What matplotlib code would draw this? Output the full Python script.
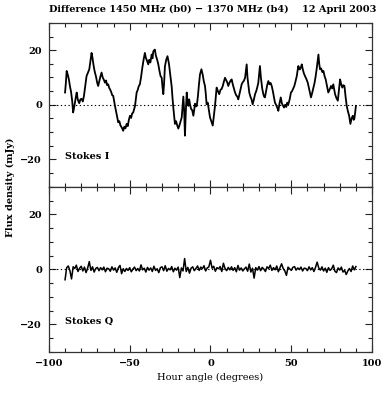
import numpy as np
import matplotlib
matplotlib.use("Agg")
import matplotlib.pyplot as plt
from matplotlib.ticker import MultipleLocator

# Stokes I - razlika 1450 MHz (b0) - 1370 MHz (b4), ocitano sa slike
stokes_i_x = [
    -90.0, -89.5, -89.0, -88.3, -87.6, -87.0, -86.3, -85.6, -85.0, -84.4,
    -83.9, -83.3, -82.8, -82.3, -81.9, -81.2, -80.5, -79.8, -79.0, -78.3,
    -77.5, -76.7, -76.0, -75.0, -74.3, -73.6, -73.1, -72.6, -72.0, -71.5,
    -70.8, -70.1, -69.5, -68.8, -68.1, -67.4, -66.7, -66.0, -65.3, -64.6,
    -64.0, -63.3, -62.7, -62.2, -61.5, -60.8, -60.2, -59.6, -59.1, -58.4,
    -57.7, -57.1, -56.4, -55.7, -55.0, -54.5, -54.0, -53.3, -52.6, -51.9,
    -51.2, -50.5, -49.8, -49.1, -48.5, -47.8, -47.2, -46.7, -46.2, -45.7,
    -45.0, -44.4, -43.7, -43.0, -42.2, -41.4, -40.6, -40.0, -39.2, -38.5,
    -37.9, -37.2, -36.4, -35.9, -35.4, -34.9, -34.4, -33.8, -33.0, -32.3,
    -31.6, -30.9, -30.2, -29.7, -29.2, -28.7, -28.2, -27.4, -26.6, -25.7,
    -24.8, -24.0, -23.5, -23.0, -22.5, -22.0, -21.3, -20.6, -19.9, -19.2,
    -18.5, -17.8, -17.3, -16.8, -16.3, -15.8, -15.3, -14.7, -14.2, -13.7,
    -13.2, -12.7, -12.0, -11.3, -10.6, -10.1, -9.6, -9.0, -8.5, -7.8,
    -7.2, -6.5, -5.6, -4.8, -4.1, -3.4, -2.9, -2.4, -1.7, -1.0,
    -0.3, 0.5, 1.4, 2.1, 2.8, 3.3, 3.8, 4.6, 5.4, 6.2,
    6.9, 7.6, 8.3, 9.0, 9.7, 10.4, 11.0, 11.7, 12.4, 13.1,
    13.8, 14.5, 15.2, 15.9, 16.6, 17.2, 17.9, 18.6, 19.3, 20.0,
    20.7, 21.4, 21.9, 22.4, 22.9, 23.5, 24.0, 24.7, 25.4, 26.1,
    26.8, 27.6, 28.3, 29.0, 29.6, 30.1, 30.6, 31.2, 32.0, 32.7,
    33.2, 33.7, 34.4, 35.1, 35.8, 36.5, 37.2, 37.9, 38.6, 39.2,
    39.9, 40.6, 41.3, 42.0, 42.7, 43.5, 44.2, 44.8, 45.5, 46.2,
    46.9, 47.5, 48.2, 49.0, 49.8, 50.5, 51.2, 51.9, 52.6, 53.4,
    53.9, 54.4, 54.9, 55.4, 56.0, 56.5, 57.2, 57.8, 58.5, 59.3,
    60.2, 60.8, 61.5, 62.2, 63.0, 63.7, 64.4, 65.1, 65.8, 66.3,
    66.8, 67.3, 67.8, 68.5, 69.2, 69.9, 70.6, 71.3, 72.1, 72.9,
    73.7, 74.6, 75.3, 76.0, 76.6, 77.1, 77.9, 78.8, 79.5, 80.2,
    80.9, 81.6, 82.2, 82.9, 83.6, 84.3, 85.1, 85.8, 86.2, 86.6,
    87.3, 88.1, 88.6, 89.0, 89.5, 90.0,
]
stokes_i = [
    4.5, 8.0, 12.4, 11.0, 9.2, 6.9, 4.8, 1.5, -2.8, -1.0,
    0.8, 2.9, 4.5, 2.5, 1.5, 0.6, 2.0, 2.2, 1.2, 3.3,
    6.8, 10.5, 11.5, 13.0, 16.0, 19.0, 17.5, 15.4, 13.2, 11.8,
    10.2, 8.0, 6.9, 8.6, 10.4, 11.8, 10.0, 9.2, 8.1, 8.9,
    7.2, 7.5, 6.2, 5.7, 4.8, 3.5, 3.3, 1.2, -0.4, -2.5,
    -4.8, -6.4, -6.0, -7.6, -8.2, -8.8, -9.5, -8.0, -8.6, -7.0,
    -7.8, -5.5, -4.0, -4.8, -3.2, -2.8, -1.5, -0.4, 2.0, 4.5,
    5.5, 6.8, 7.5, 10.0, 13.5, 16.5, 19.0, 17.2, 16.0, 14.8,
    16.5, 15.5, 18.4, 17.0, 19.5, 20.0, 20.2, 18.0, 16.5, 14.8,
    12.5, 10.5, 9.9, 6.5, 3.9, 8.0, 14.0, 16.5, 17.8, 15.0,
    10.5, 6.6, 2.5, -1.0, -4.0, -7.0, -6.0, -7.5, -8.7, -7.5,
    -6.0, -4.6, -1.0, 3.0, -2.0, -11.3, -3.0, 4.5, 1.0, -0.4,
    2.0, 0.2, -1.5, -2.0, -4.0, -2.0, 0.4, -0.6, -0.4, 3.0,
    7.0, 11.1, 13.0, 11.0, 8.5, 6.9, 4.0, 0.2, 0.8, -2.0,
    -4.6, -6.0, -7.6, -4.0, -0.4, 3.0, 6.3, 5.0, 3.9, 5.5,
    5.8, 6.9, 8.5, 9.9, 9.0, 8.2, 6.9, 8.0, 8.8, 9.3,
    7.5, 6.0, 4.5, 3.5, 3.0, 2.0, 3.8, 5.5, 7.5, 8.3,
    8.8, 9.9, 12.5, 14.8, 10.0, 7.0, 4.5, 3.0, 2.0, 0.2,
    1.8, 3.9, 5.0, 6.5, 8.1, 11.0, 14.2, 10.0, 6.0, 3.9,
    3.0, 2.7, 5.0, 7.2, 8.7, 7.5, 8.0, 6.9, 5.0, 3.0,
    0.8, 0.0, -1.0, -2.2, 0.5, 2.7, 0.5, -0.2, -1.0, 0.0,
    -0.8, 0.8, 0.2, 2.0, 4.5, 5.0, 6.0, 6.9, 8.5, 10.5,
    12.5, 14.2, 13.0, 13.0, 13.8, 14.8, 12.8, 11.5, 10.5, 9.5,
    8.1, 6.5, 4.5, 2.7, 4.5, 6.3, 8.0, 10.5, 13.5, 16.0,
    18.4, 15.0, 13.0, 13.3, 12.0, 12.4, 10.5, 9.3, 7.0, 4.5,
    5.5, 6.9, 6.0, 7.5, 5.5, 3.9, 2.5, 1.5, 5.5, 9.3,
    7.5, 6.3, 7.2, 6.9, 3.0, -0.4, -2.5, -4.0, -5.5, -7.0,
    -5.0, -4.0, -5.5, -5.2, -3.0, -0.4,
]

# Stokes Q - korak od 1 stupnja, od -90 do 90
stokes_q_x = list(range(-90, 91))
stokes_q = [
    -3.8, 0.6, 1.2, -0.5, -3.5, 0.9, 0.3, 1.5, -0.8, 0.4,
    1.1, -0.6, 0.8, -1.2, 0.5, 2.8, -0.4, 0.9, -1.0, 0.3,
    0.7, -0.5, 0.6, -0.2, 0.8, -0.9, 0.4, 0.2, -0.7, 0.9,
    -0.3, 0.5, -1.1, 0.6, 1.4, -1.6, 0.2, -0.8, 0.3, -0.4,
    0.6, -0.9, 0.1, 0.8, -0.5, 0.3, -0.6, 1.6, -0.2, 0.4,
    -1.0, 0.7, -0.3, 0.5, -0.8, 1.1, -0.4, 0.2, -1.2, 0.6,
    0.9, -0.5, 1.3, -0.7, 0.3, -0.2, 1.0, -0.9, 0.4, -0.3,
    0.8, -3.0, 0.5, -0.6, 3.9, -0.8, 0.7, -1.4, 0.4, 0.9,
    -0.5, 0.3, 1.2, -0.4, 0.8, 0.2, 1.3, -0.6, 0.5, 0.9,
    3.3, 0.4, 1.1, -0.7, 0.6, 0.2, 1.0, -0.8, 2.2, 0.3,
    -0.5, 0.7, -0.2, 0.9, -0.4, 0.6, -0.9, 1.4, -0.3, 0.5,
    -0.6, 0.2, 0.8, -0.7, 1.9, -1.0, 0.4, -3.2, 0.6, -0.3,
    1.0, -0.5, 0.7, 0.1, -0.8, 0.9, 0.3, 1.5, -0.4, 0.6,
    -0.2, 1.2, -0.9, 0.5, 2.0, 0.3, -0.6, -2.2, 0.8, 0.2,
    -0.4, 0.7, 1.0, -0.3, 0.5, -0.1, 0.8, -0.6, 0.4, 0.3,
    -0.5, 0.9, -0.2, 0.6, -0.8, 0.7, 2.6, 0.5, -0.3, 0.9,
    -0.6, 0.4, -1.1, 0.6, -0.4, 0.2, 1.5, -0.7, -1.2, 0.5,
    -0.3, 0.8, -1.0, -0.4, -1.9, -0.6, 0.3, -0.8, 1.2, -0.2,
    1.0,
]

font = "DejaVu Serif"
plt.rcParams["font.family"] = font
plt.rcParams["font.size"] = 7
plt.rcParams["font.weight"] = "bold"

fig = plt.figure(figsize=(3.82, 3.94), dpi=100)
ax1 = fig.add_axes([0.128, 0.526, 0.846, 0.416])
ax2 = fig.add_axes([0.128, 0.107, 0.846, 0.419])

for ax, x, y, ime, debljina in [(ax1, stokes_i_x, stokes_i, "Stokes I", 1.3),
                                (ax2, stokes_q_x, stokes_q, "Stokes Q", 1.1)]:
    ax.axhline(0, color="black", linestyle=(0, (1.2, 2.2)), lw=0.8)
    ax.plot(x, y, color="black", lw=debljina)
    ax.set_xlim(-100, 100)
    ax.set_ylim(-30, 30)
    ax.xaxis.set_major_locator(MultipleLocator(50))
    ax.xaxis.set_minor_locator(MultipleLocator(10))
    ax.yaxis.set_major_locator(MultipleLocator(20))
    ax.yaxis.set_minor_locator(MultipleLocator(5))
    ax.tick_params(which="both", direction="in", top=True, right=True,
                   width=0.8, pad=5, colors="#222222", labelcolor="black")
    ax.tick_params(which="major", length=5)
    ax.tick_params(which="minor", length=3)
    for s in ax.spines.values():
        s.set_linewidth(0.9)
        s.set_color("#333333")
    ax.text(-90, -19, ime, va="center", ha="left")

ax1.tick_params(labelbottom=False)
ax2.set_xlabel("Hour angle (degrees)", labelpad=4)

fig.text(0.558, 0.975, "Difference 1450 MHz (b0) \u2212 1370 MHz (b4)    12 April 2003",
         ha="center", va="center")
fig.text(0.028, 0.525, "Flux density (mJy)", rotation=90, ha="center", va="center")

fig.savefig("out.png", dpi=100)
